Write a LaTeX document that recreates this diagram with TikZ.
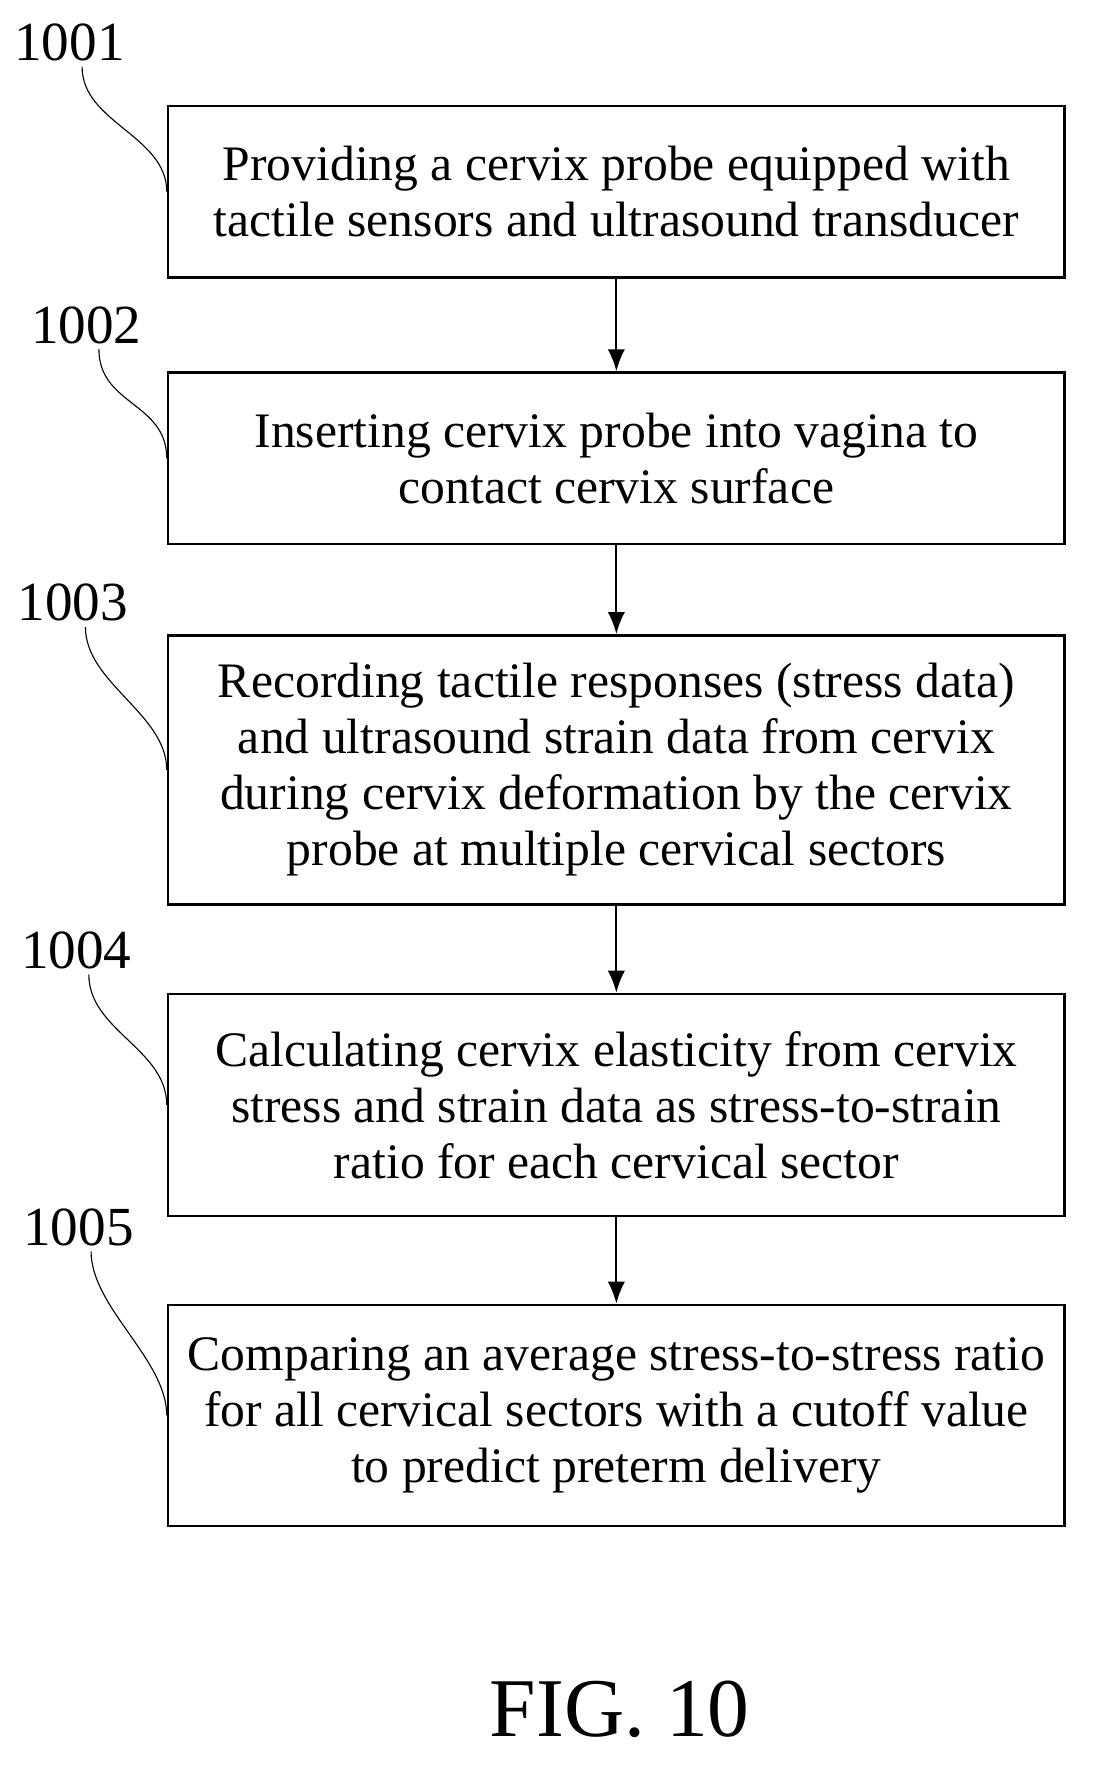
\documentclass[tikz,border=0pt]{standalone}
\usepackage{fontspec}
\setmainfont{Liberation Serif}
\usepackage{tikz}
\usetikzlibrary{arrows.meta}
\tikzset{
  stepbox/.style={draw, line width=1.6pt, minimum width=20cm, align=center,
    font=\fontsize{31.5}{35.5}\selectfont, inner sep=0pt},
  tag/.style={font=\fontsize{35}{38}\selectfont},
  lead/.style={line width=0.7pt},
  flow/.style={line width=1.4pt, -{Latex[length=14pt,width=11pt]}}
}
\begin{document}
\begin{tikzpicture}[x=0.025cm, y=-0.025cm]
\useasboundingbox (0,0) rectangle (975,1575);

\draw (550,171) node[stepbox, minimum height=3.825cm] (s1) {Providing a cervix probe equipped with\\tactile sensors and ultrasound transducer} ;
\draw (550,409) node[stepbox, minimum height=3.825cm] (s2) {Inserting cervix probe into vagina to\\contact cervix surface} ;
\draw (550,687) node[stepbox, minimum height=6cm] (s3) {Recording tactile responses (stress data)\\and ultrasound strain data from cervix\\during cervix deformation by the cervix\\probe at multiple cervical sectors} ;
\draw (550,986) node[stepbox, minimum height=4.95cm] (s4) {Calculating cervix elasticity from cervix\\stress and strain data as stress-to-strain\\ratio for each cervical sector} ;
\draw (550,1263) node[stepbox, minimum height=4.925cm] (s5) {Comparing an average stress-to-stress ratio\\for all cervical sectors with a cutoff value\\to predict preterm delivery} ;

\draw (s1) edge[flow] (s2)   (s2) edge[flow] (s3)   (s3) edge[flow] (s4)   (s4) edge[flow] (s5) ;

\draw (62,38) node[tag] (t1) {1001} ;
\draw (77,290) node[tag] (t2) {1002} ;
\draw (65,538) node[tag] (t3) {1003} ;
\draw (68,848) node[tag] (t4) {1004} ;
\draw (70,1095) node[tag] (t5) {1005} ;

\foreach \i in {1,...,5}
  \draw[lead] ([xshift=8pt]t\i.south) .. controls +(0,50) and +(0,-50) .. (s\i.west) ;

\draw (553,1525) node[font=\fontsize{53}{58}\selectfont] (fig) {FIG. 10} ;
\end{tikzpicture}
\end{document}
